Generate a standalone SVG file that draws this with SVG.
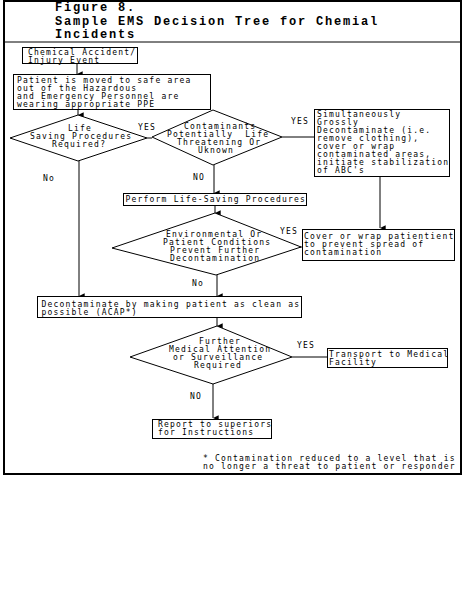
<svg xmlns="http://www.w3.org/2000/svg" width="467" height="591" viewBox="0 0 467 591">
<style>
.t{font-family:"DejaVu Sans Mono","Liberation Mono",monospace;font-size:8px;letter-spacing:1.2px;fill:#000}
.h{font-family:"Liberation Mono","DejaVu Sans Mono",monospace;font-size:12px;font-weight:bold;letter-spacing:1.8px;fill:#000}
.b{fill:#fff;stroke:#000;stroke-width:1}
.c{stroke:#000;stroke-width:1;fill:none}
</style>
<defs>
<marker id="ah" markerUnits="userSpaceOnUse" markerWidth="8" markerHeight="8" refX="3" refY="6" orient="auto-start-reverse" viewBox="0 0 6 7">
<path d="M0.5,1 L5.5,1 L3,6 z" fill="#000"/>
</marker>
</defs>
<rect x="0" y="0" width="467" height="591" fill="#fff"/>
<rect x="4" y="1" width="457" height="473" fill="none" stroke="#000" stroke-width="2"/>
<line x1="4" y1="42" x2="461" y2="42" stroke="#000" stroke-width="1"/>
<g id="title">
<text class="h" x="55" y="11">Figure 8.</text>
<text class="h" x="55" y="24.5">Sample EMS Decision Tree for Chemial</text>
<text class="h" x="55" y="38">Incidents</text>
</g>
<g id="connectors">
<line class="c" x1="77" y1="64" x2="77" y2="74" marker-end="url(#ah)"/>
<line class="c" x1="78" y1="110" x2="78" y2="115" marker-end="url(#ah)"/>
<line class="c" x1="147" y1="138" x2="152" y2="138"/>
<line class="c" x1="282" y1="137" x2="314" y2="137"/>
<line class="c" x1="214" y1="165" x2="214" y2="193" marker-end="url(#ah)"/>
<line class="c" x1="215" y1="205" x2="215" y2="213" marker-end="url(#ah)"/>
<line class="c" x1="380" y1="177" x2="380" y2="228" marker-end="url(#ah)"/>
<line class="c" x1="300" y1="247" x2="302" y2="247"/>
<line class="c" x1="217" y1="275" x2="217" y2="296" marker-end="url(#ah)"/>
<line class="c" x1="79" y1="161" x2="79" y2="296" marker-end="url(#ah)"/>
<line class="c" x1="217" y1="318" x2="217" y2="326" marker-end="url(#ah)"/>
<line class="c" x1="292" y1="357" x2="327" y2="357"/>
<line class="c" x1="213" y1="384" x2="213" y2="418" marker-end="url(#ah)"/>
<text class="t" x="138" y="130">YES</text>
<text class="t" x="291" y="123.5">YES</text>
<text class="t" x="43" y="181">No</text>
<text class="t" x="193" y="180">NO</text>
<text class="t" x="280" y="234">YES</text>
<text class="t" x="192" y="286">No</text>
<text class="t" x="297" y="348">YES</text>
<text class="t" x="190" y="399">NO</text>
</g>
<g id="n1">
<rect class="b" x="22.5" y="47.5" width="115" height="16"/>
<text class="t" x="28" y="54.5">Chemical Accident/</text>
<text class="t" x="28" y="62.5">Injury Event</text>
</g>
<g id="n2">
<rect class="b" x="13.5" y="74.5" width="197" height="35"/>
<text class="t" x="17" y="82.5">Patient is moved to safe area</text>
<text class="t" x="17" y="90.5">out of the Hazardous</text>
<text class="t" x="17" y="98.5">and Emergency Personnel are</text>
<text class="t" x="17" y="106.5">wearing appropriate PPE</text>
</g>
<g id="d1">
<polygon class="b" points="78,115 147,138 78,161 10,138"/>
<text class="t" x="68" y="130.5">Life</text>
<text class="t" x="30" y="138.5">Saving Procedures</text>
<text class="t" x="52" y="146.5">Required?</text>
</g>
<g id="d2">
<polygon class="b" points="213,110 282,137 213,165 152,137"/>
<text class="t" x="184" y="129">Contaminants</text>
<text class="t" x="167" y="137" xml:space="preserve">Potentially  Life</text>
<text class="t" x="177" y="145">Threatening Or</text>
<text class="t" x="198" y="153">Uknown</text>
</g>
<g id="n3">
<rect class="b" x="314.5" y="109.5" width="135" height="67"/>
<text class="t" x="317" y="117">Simultaneously</text>
<text class="t" x="317" y="125">Grossly</text>
<text class="t" x="317" y="133">Decontaminate (i.e.</text>
<text class="t" x="317" y="141">remove clothing),</text>
<text class="t" x="317" y="149">cover or wrap</text>
<text class="t" x="317" y="157">contaminated areas,</text>
<text class="t" x="317" y="165">initiate stabilization</text>
<text class="t" x="317" y="173">of ABC's</text>
</g>
<g id="n4">
<rect class="b" x="123.5" y="193.5" width="183" height="12"/>
<text class="t" x="125.5" y="202">Perform Life-Saving Procedures</text>
</g>
<g id="d3">
<polygon class="b" points="215,213 301,247 216,275 112,248"/>
<text class="t" x="166" y="236.5">Environmental Or</text>
<text class="t" x="163" y="244.5">Patient Conditions</text>
<text class="t" x="170" y="252.5">Prevent Further</text>
<text class="t" x="170" y="260.5">Decontamination</text>
</g>
<g id="n5">
<rect class="b" x="302.5" y="229.5" width="152" height="31"/>
<text class="t" x="304" y="239">Cover or wrap patientient</text>
<text class="t" x="304" y="247">to prevent spread of</text>
<text class="t" x="304" y="255">contamination</text>
</g>
<g id="n6">
<rect class="b" x="37.5" y="296.5" width="264" height="21"/>
<text class="t" x="41.5" y="306.5">Decontaminate by making patient as clean as</text>
<text class="t" x="41.5" y="314.5">possible (ACAP*)</text>
</g>
<g id="d4">
<polygon class="b" points="217,326 292,357 213,384 130,357"/>
<text class="t" x="199" y="344">Further</text>
<text class="t" x="169" y="352">Medical Attention</text>
<text class="t" x="173" y="360">or Surveillance</text>
<text class="t" x="194" y="368">Required</text>
</g>
<g id="n7">
<rect class="b" x="327.5" y="348.5" width="120" height="19"/>
<text class="t" x="329" y="356.5">Transport to Medical</text>
<text class="t" x="329" y="364.5">Facility</text>
</g>
<g id="n8">
<rect class="b" x="152.5" y="419.5" width="119" height="19"/>
<text class="t" x="158" y="426.5">Report to superiors</text>
<text class="t" x="158" y="434.5">for Instructions</text>
</g>
<g id="note">
<text class="t" x="203" y="460.5">* Contamination reduced to a level that is</text>
<text class="t" x="203" y="468.5">no longer a threat to patient or responder</text>
</g>
</svg>
